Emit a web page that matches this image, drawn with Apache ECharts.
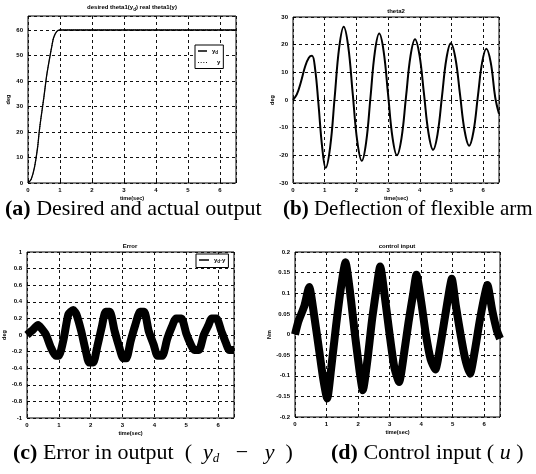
<!DOCTYPE html>
<html>
<head>
<meta charset="utf-8">
<script src="https://cdn.jsdelivr.net/npm/echarts@6/dist/echarts.min.js"></script>
<style>html,body{margin:0;padding:0;background:#fff}#c{width:536px;height:474px}</style>
</head>
<body>
<div id="c"></div>
<script>
// ---- data ----
var xTicks = [0, 1, 2, 3, 4, 5, 6];
// (a) desired and actual output (deg)
var tA  = [0, 0.1, 0.2, 0.3, 0.35, 0.4, 0.5, 0.56, 0.6, 0.69, 0.75, 0.8, 0.9, 1.0, 6.5];
var ydA = [0, 1.5, 6, 14, 20, 25, 34, 40, 43.5, 50, 54, 57, 59.5, 60, 60];
var yA  = [0, 1.5, 6, 14, 20, 25, 34, 40, 43.5, 50, 54, 57, 59.5, 60, 60];
// (b) deflection of flexible arm theta2 (deg)
var tB = [0, 0.12, 0.25, 0.38, 0.5, 0.6, 0.7, 0.8, 0.92, 1.03, 1.1725, 1.315, 1.4575, 1.6, 1.7425, 1.885, 2.0275, 2.17,
          2.3075, 2.445, 2.5825, 2.72, 2.86, 3.0, 3.14, 3.28, 3.4225, 3.565, 3.7075, 3.85, 3.9925, 4.135, 4.2775, 4.42,
          4.56, 4.7, 4.84, 4.98, 5.125, 5.27, 5.415, 5.56, 5.695, 5.83, 5.965, 6.1, 6.24, 6.38, 6.5];
var vB = [0, 2, 6.5, 12, 15.3, 16, 11, -1, -17, -24.5, -17, 1, 19, 26.5, 19.4, 2.2, -14.9, -22,
          -15.3, 1, 17.3, 24, 17.6, 2, -13.6, -20, -13.9, 1, 15.9, 22, 16.1, 2, -12.1, -18,
          -12.4, 1.2, 14.9, 20.5, 15.1, 2, -11.1, -16.5, -11.4, 1, 13.4, 18.5, 13.5, 1, -5];
// (c) error in output yd - y (deg)
var tC = [0, 0.15, 0.35, 0.45, 0.6, 0.75, 0.9, 1.0, 1.15, 1.3, 1.45, 1.55, 1.7, 1.85, 1.95, 2.08, 2.2, 2.35, 2.47, 2.6,
          2.75, 2.9, 3.02, 3.12, 3.25, 3.4, 3.55, 3.68, 3.82, 3.98, 4.1, 4.25, 4.4, 4.55, 4.68, 4.85, 5.0, 5.15,
          5.25, 5.4, 5.55, 5.7, 5.8, 5.95, 6.1, 6.25, 6.35, 6.5];
var vC = [0, 0.05, 0.12, 0.08, 0, -0.15, -0.25, -0.25, -0.05, 0.25, 0.3, 0.25, 0.05, -0.2, -0.33, -0.33, -0.15, 0.1, 0.28, 0.28,
          0.05, -0.15, -0.28, -0.28, -0.08, 0.12, 0.28, 0.28, 0.05, -0.12, -0.25, -0.25, -0.05, 0.1, 0.2, 0.2, 0.02, -0.12,
          -0.18, -0.18, 0, 0.12, 0.2, 0.2, 0.05, -0.1, -0.18, -0.18];
// (d) control input u (Nm)
var tD = [0, 0.1, 0.2, 0.3, 0.45, 0.6, 0.75, 0.9, 1.02, 1.15, 1.3, 1.45, 1.6, 1.75, 1.9, 2.05, 2.15, 2.3, 2.45, 2.6, 2.7,
          2.85, 3.0, 3.15, 3.3, 3.45, 3.6, 3.75, 3.85, 4.0, 4.15, 4.3, 4.45, 4.6, 4.75, 4.9, 4.97, 5.1, 5.25, 5.4, 5.55,
          5.7, 5.85, 6.0, 6.1, 6.25, 6.4, 6.5];
var vD = [0, 0.03, 0.05, 0.07, 0.115, 0.05, -0.03, -0.11, -0.155, -0.08, 0.02, 0.11, 0.175, 0.1, 0.0, -0.09, -0.135, -0.06, 0.04, 0.12, 0.165,
          0.09, 0.0, -0.08, -0.115, -0.05, 0.03, 0.1, 0.145, 0.08, 0.0, -0.06, -0.085, -0.03, 0.04, 0.11, 0.135, 0.07, 0.0, -0.06, -0.095,
          -0.04, 0.03, 0.09, 0.12, 0.06, 0.01, -0.01];

function pairs(t, v) { return t.map(function (x, i) { return [x, v[i]]; }); }

var lblFont = { fontSize: 6, fontWeight: 'bold', fontFamily: 'Arial', color: '#000' };
var grids = [
  { left: 28, top: 16, width: 208, height: 167 },
  { left: 293, top: 17, width: 206, height: 166 },
  { left: 27, top: 252, width: 207, height: 166 },
  { left: 295, top: 252, width: 205, height: 165 }
].map(function (g) { return Object.assign({ show: true, borderColor: '#000', borderWidth: 1, backgroundColor: '#fff' }, g); });

var split = { show: true, lineStyle: { color: '#111', type: [3, 3], width: 1 } };

function xAx(i) {
  return {
    type: 'value', gridIndex: i, min: 0, max: 6.5, interval: 1,
    axisLine: { show: false },
    axisTick: { show: true, inside: true, length: 3, lineStyle: { color: '#000' } },
    axisLabel: Object.assign({ margin: 4, formatter: function (v) { return xTicks.indexOf(v) >= 0 ? String(v) : ''; } }, lblFont),
    splitLine: split,
    name: 'time(sec)', nameLocation: 'middle', nameGap: 12,
    nameTextStyle: { fontSize: 5.5, fontWeight: 'bold', fontFamily: 'Arial', color: '#000' }
  };
}
function yAx(i, min, max, interval, name, step) {
  return {
    type: 'value', gridIndex: i, min: min, max: max, interval: interval,
    axisLine: { show: false },
    axisTick: { show: true, inside: true, length: 3, lineStyle: { color: '#000' } },
    axisLabel: Object.assign({ margin: 5, formatter: function (v) {
      if (step && Math.abs(v / step - Math.round(v / step)) > 1e-6) return '';
      return String(Math.round(v * 1000) / 1000);
    } }, lblFont),
    splitLine: split,
    name: name, nameLocation: 'middle', nameGap: 17, nameRotate: 90,
    nameTextStyle: { fontSize: 5.5, fontWeight: 'bold', fontFamily: 'Arial', color: '#000' }
  };
}

function capStyle(sz) {
  return {
    fontFamily: 'Liberation Serif', fontSize: sz, fontWeight: 'normal', color: '#000',
    rich: {
      b: { fontFamily: 'Liberation Serif', fontSize: sz, fontWeight: 'bold', color: '#000' },
      i: { fontFamily: 'Liberation Serif', fontSize: sz, fontStyle: 'italic', color: '#000' },
      s: { fontFamily: 'Liberation Serif', fontSize: 13, fontStyle: 'italic', color: '#000', padding: [10, 0, 0, 0] }
    }
  };
}
var smallTitle = { fontSize: 6, fontWeight: 'bold', fontFamily: 'Arial', color: '#000' };
var subRich = { s: { fontSize: 4.5, fontWeight: 'bold', fontFamily: 'Arial', color: '#000', padding: [4, 0, 0, 0] } };

var option = {
  backgroundColor: '#fff',
  animation: false,
  title: [
    { text: 'desired theta1(y{s|d}) real theta1(y)', left: 132, top: 3, textAlign: 'center', padding: 0,
      textStyle: Object.assign({ rich: subRich }, smallTitle) },
    { text: 'theta2', left: 396, top: 8, textAlign: 'center', padding: 0, textStyle: smallTitle },
    { text: 'Error', left: 130, top: 243, textAlign: 'center', padding: 0, textStyle: smallTitle },
    { text: 'control input', left: 397, top: 243, textAlign: 'center', padding: 0, textStyle: smallTitle },
    { text: '{b|(a)} Desired and actual output', left: 5, top: 198, padding: 0, textStyle: capStyle(22) },
    { text: '{b|(b)} Deflection of flexible arm', left: 283, top: 199, padding: 0, textStyle: capStyle(21) },
    { text: '{b|(c)} Error in output  (  {i|y}{s|d}   −   {i|y}  )', left: 13, top: 442, padding: 0, textStyle: capStyle(22) },
    { text: '{b|(d)} Control input ( {i|u} )', left: 331, top: 442, padding: 0, textStyle: capStyle(22) }
  ],
  legend: [
    { data: [
        { name: 'yd', icon: 'rect' },
        { name: 'y', icon: 'path://M0,0h1v1h-1z M3,0h1v1h-1z M6,0h1v1h-1z M9,0h1v1h-1z' }
      ],
      orient: 'vertical', left: 195, top: 45, padding: [3, 3, 3, 3], itemGap: 4,
      itemWidth: 9, itemHeight: 1.5, borderColor: '#000', borderWidth: 1, backgroundColor: '#fff',
      textStyle: { fontSize: 6, fontWeight: 'bold', fontFamily: 'Arial', color: '#000', rich: subRich },
      formatter: function (n) { return n === 'yd' ? 'y{s|d}' : '   y'; } },
    { data: [{ name: 'yd-y', icon: 'rect' }], orient: 'vertical', left: 196, top: 254, padding: [3, 3, 3, 3],
      itemWidth: 10, itemHeight: 1.5, borderColor: '#000', borderWidth: 1, backgroundColor: '#fff',
      textStyle: { fontSize: 6, fontWeight: 'bold', fontFamily: 'Arial', color: '#000', rich: subRich },
      formatter: function () { return 'y{s|d}-y'; } }
  ],
  grid: grids,
  xAxis: [xAx(0), xAx(1), xAx(2), xAx(3)],
  yAxis: [
    yAx(0, 0, 65.5, 10, 'deg', 10),
    yAx(1, -30, 30, 10, 'deg'),
    yAx(2, -1, 1, 0.2, 'deg'),
    yAx(3, -0.2, 0.2, 0.05, 'Nm')
  ],
  series: [
    { name: 'yd', type: 'line', xAxisIndex: 0, yAxisIndex: 0, data: pairs(tA, ydA), smooth: 0.3, symbol: 'none',
      lineStyle: { color: '#000', width: 1.3 }, itemStyle: { color: '#000' } },
    { name: 'y', type: 'line', xAxisIndex: 0, yAxisIndex: 0, data: pairs(tA, yA), smooth: 0.3, symbol: 'none',
      lineStyle: { color: '#000', width: 1, type: 'dotted' }, itemStyle: { color: '#000' } },
    { name: 'theta2', type: 'line', xAxisIndex: 1, yAxisIndex: 1, data: pairs(tB, vB), smooth: 0.4, symbol: 'none',
      lineStyle: { color: '#000', width: 2 } },
    { name: 'yd-y', type: 'line', xAxisIndex: 2, yAxisIndex: 2, data: pairs(tC, vC), smooth: 0.2, symbol: 'none',
      lineStyle: { color: '#000', width: 8 }, itemStyle: { color: '#000' } },
    { name: 'u', type: 'line', xAxisIndex: 3, yAxisIndex: 3, data: pairs(tD, vD), smooth: 0.2, symbol: 'none',
      lineStyle: { color: '#000', width: 8 } }
  ]
};
var chart = echarts.init(document.getElementById('c'), null, { renderer: 'canvas' });
chart.setOption(option);
</script>
</body>
</html>
